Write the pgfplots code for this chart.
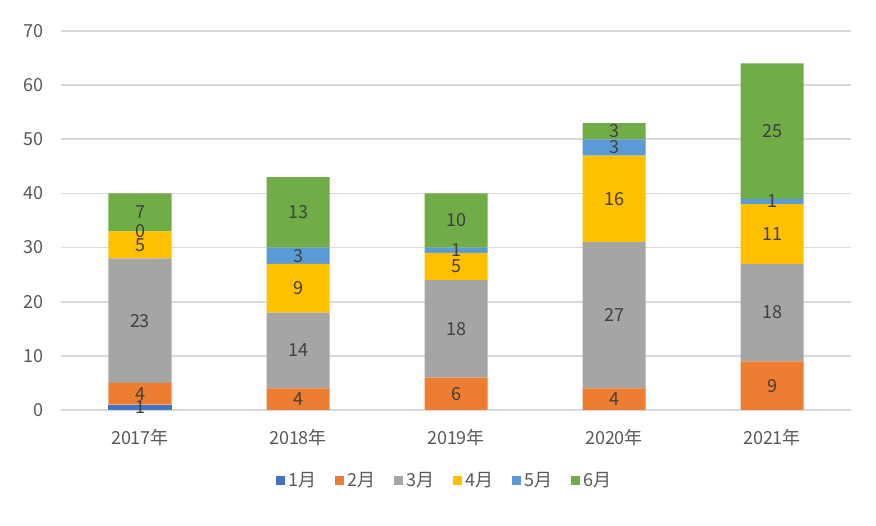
\documentclass[border=0pt]{standalone}
\usepackage{pgfplots}
\pgfplotsset{compat=1.18}
\usepackage{fontspec}
\setmainfont{Noto Sans CJK JP}
\definecolor{c1}{HTML}{4472C4}
\definecolor{c2}{HTML}{ED7D31}
\definecolor{c3}{HTML}{A5A5A5}
\definecolor{c4}{HTML}{FFC000}
\definecolor{c5}{HTML}{5B9BD5}
\definecolor{c6}{HTML}{70AD47}
\definecolor{axtext}{HTML}{595959}
\definecolor{lbltext}{HTML}{404040}
\definecolor{gridc}{HTML}{D9D9D9}
\pgfplotsset{
  sq/.style={draw=none, fill=#1,
    legend image code/.code={\fill[#1] (0pt,-2.25pt) rectangle (4.5pt,2.25pt);}},
}
\begin{document}
\begin{tikzpicture}
\begin{axis}[
  ybar stacked,
  x=79pt, y=2.7071pt,
  bar width=31.5pt,
  xmin=-0.5, xmax=4.5, ymin=0, ymax=70,
  ytick={0,10,...,70},
  xtick={0,1,2,3,4},
  xticklabels={2017年,2018年,2019年,2020年,2021年},
  axis line style={draw=none},
  major tick length=0pt,
  ymajorgrids,
  grid style={gridc, line width=0.8pt},
  tick label style={font=\fontsize{9}{11}\selectfont, text=axtext},
  yticklabel style={xshift=-5pt},
  xticklabel style={yshift=-6pt},
  /pgf/number format/assume math mode=true,
  visualization depends on={rawy \as \myrawy},
  nodes near coords={\pgfmathprintnumber[fixed,precision=0,assume math mode=true]{\myrawy}},
  every node near coord/.append style={anchor=center,
    font=\fontsize{9}{11}\selectfont, text=lbltext, inner sep=0pt},
  legend style={at={(0.487,-0.187)}, anchor=center, draw=none,
    legend columns=-1, font=\fontsize{9}{11}\selectfont, text=axtext,
    /tikz/every even column/.append style={column sep=7pt}},
]
\addplot[sq=c1, nodes near coords={\ifdim\myrawy pt=0pt \else\pgfmathprintnumber[fixed,precision=0,assume math mode=true]{\myrawy}\fi}] coordinates {(0,1) (1,0) (2,0) (3,0) (4,0)};
\addlegendentry{1月}
\addplot[sq=c2] coordinates {(0,4) (1,4) (2,6) (3,4) (4,9)};
\addlegendentry{2月}
\addplot[sq=c3] coordinates {(0,23) (1,14) (2,18) (3,27) (4,18)};
\addlegendentry{3月}
\addplot[sq=c4] coordinates {(0,5) (1,9) (2,5) (3,16) (4,11)};
\addlegendentry{4月}
\addplot[sq=c5] coordinates {(0,0.001) (1,3) (2,1) (3,3) (4,1)};
\addlegendentry{5月}
\addplot[sq=c6] coordinates {(0,7) (1,13) (2,10) (3,3) (4,25)};
\addlegendentry{6月}
\end{axis}
\path[use as bounding box] ([xshift=-30.5pt,yshift=-58pt]current axis.south west)
  rectangle ([xshift=12.5pt,yshift=15.5pt]current axis.north east);
\end{tikzpicture}
\end{document}
